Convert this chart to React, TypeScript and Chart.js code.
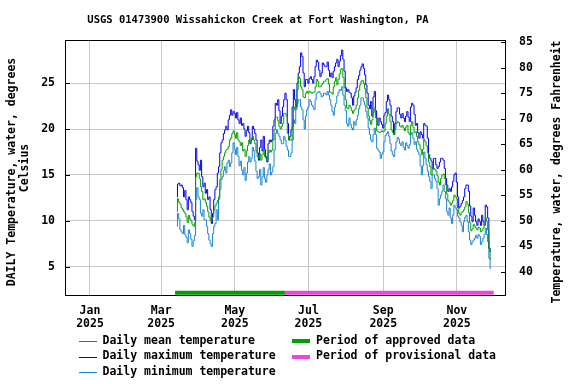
import React, { useEffect, useRef } from "react";
import { Chart, registerables } from "chart.js";

Chart.register(...registerables);

const FONT = '"DejaVu Sans Mono", "Liberation Mono", monospace';

// Day numbers counted from 2025-01-01 (= 0)
const monthStarts = [72, 90, 120, 151, 181, 212, 243, 273, 304]; // Mar 14, Apr 1, May 1 ... Nov 1

// Daily maximum temperature, deg C
const maxMar = [12.6, 14.0, 14.1, 13.8, 13.9, 13.6, 12.6, 13.3, 12.3, 11.2, 12.6, 12.3, 12.0, 11.0, 10.5, 10.1, 17.9, 16.5];
const maxApr = [16.1, 15.5, 16.6, 14.8, 13.7, 14.1, 13.0, 13.4, 12.3, 12.6, 11.2, 9.7, 10.8, 12.3, 13.4, 13.7, 15.2, 15.9, 17.4, 18.5, 18.8, 19.5, 19.9, 20.3, 19.9, 21.0, 21.5, 22.1, 21.5, 21.9];
const maxMay = [21.7, 21.2, 21.8, 21.0, 20.6, 21.2, 20.4, 20.6, 20.0, 19.2, 19.8, 20.3, 19.6, 18.4, 18.8, 20.3, 20.0, 19.5, 18.8, 17.4, 16.6, 18.0, 18.8, 17.6, 19.2, 17.8, 17.0, 16.4, 18.4, 18.8, 18.6];
const maxJun = [18.8, 20.3, 21.0, 22.8, 22.6, 23.2, 22.0, 20.6, 21.4, 22.4, 23.2, 23.9, 23.2, 20.6, 18.8, 19.2, 19.9, 22.4, 24.3, 23.2, 22.4, 25.0, 26.1, 26.8, 28.3, 27.9, 26.1, 24.6, 25.4, 25.4];
const maxJul = [25.0, 25.5, 25.7, 25.4, 25.0, 25.7, 26.8, 27.5, 27.3, 26.4, 25.7, 26.1, 27.2, 27.0, 26.8, 26.8, 27.3, 26.4, 25.7, 26.1, 25.6, 26.3, 26.8, 27.2, 27.6, 26.8, 27.4, 28.0, 28.6, 27.6, 26.3];
const maxAug = [24.5, 24.1, 24.3, 24.0, 23.9, 23.4, 22.6, 23.6, 24.0, 24.5, 25.4, 25.8, 26.4, 26.8, 27.1, 26.6, 25.9, 24.8, 23.9, 22.6, 22.2, 23.0, 21.4, 23.5, 24.1, 22.0, 21.2, 20.4, 21.2, 20.8, 20.5];
const maxSep = [20.1, 21.5, 21.8, 23.0, 23.7, 23.2, 22.6, 21.4, 20.8, 19.4, 20.6, 21.9, 22.3, 22.3, 21.6, 21.2, 21.7, 21.2, 20.8, 21.4, 21.9, 21.3, 20.8, 22.4, 22.8, 22.6, 21.6, 20.4, 20.6, 19.6];
const maxOct = [19.0, 19.7, 19.4, 19.0, 20.6, 20.4, 20.3, 19.0, 17.2, 16.8, 16.5, 15.7, 16.8, 16.8, 16.1, 15.7, 15.9, 16.4, 16.8, 16.8, 16.6, 15.7, 14.6, 13.9, 13.2, 13.5, 13.2, 13.7, 14.3, 15.0, 15.2];
const maxNov = [14.2, 12.6, 11.4, 11.6, 11.9, 12.2, 12.6, 13.5, 13.9, 13.9, 13.2, 11.6, 10.5, 9.9, 11.4, 10.6, 9.9, 9.5, 10.2, 9.9, 9.5, 10.6, 9.9, 9.5, 11.7, 11.5, 10.3, 7.0, 6.6];

// Daily mean temperature, deg C
const meanMar = [11.0, 12.4, 12.0, 11.8, 11.4, 11.2, 11.0, 10.8, 10.4, 9.8, 10.6, 10.2, 10.0, 9.6, 9.4, 9.8, 14.8, 15.2];
const meanApr = [15.2, 14.6, 13.7, 13.2, 12.3, 12.4, 12.0, 11.6, 11.0, 10.4, 10.0, 10.1, 10.4, 11.2, 11.6, 11.9, 12.2, 12.6, 14.5, 15.6, 16.6, 17.0, 17.4, 17.7, 17.8, 18.1, 18.8, 19.0, 19.5, 19.8];
const meanMay = [19.4, 19.0, 19.6, 18.8, 18.6, 18.2, 18.5, 17.6, 17.8, 17.0, 17.6, 18.2, 18.8, 18.6, 19.0, 19.2, 18.8, 18.4, 17.6, 17.0, 16.8, 17.3, 16.6, 17.2, 17.7, 17.0, 16.8, 16.6, 17.4, 17.7, 17.5];
const meanJun = [17.7, 18.8, 19.9, 21.3, 21.3, 20.9, 20.3, 20.0, 20.3, 20.6, 21.7, 21.7, 21.4, 19.5, 18.8, 18.8, 18.8, 20.3, 22.4, 22.1, 22.8, 24.3, 25.7, 25.5, 24.6, 24.3, 23.5, 23.4, 23.9, 24.1];
const meanJul = [23.9, 24.1, 24.0, 23.9, 24.0, 24.0, 24.6, 25.4, 25.2, 24.6, 24.6, 24.8, 25.0, 25.2, 25.2, 25.4, 25.5, 24.9, 24.0, 24.0, 23.8, 24.6, 25.2, 25.6, 24.8, 25.4, 26.0, 26.5, 26.6, 25.6, 24.5];
const meanAug = [23.2, 22.3, 22.2, 22.6, 22.4, 22.0, 21.7, 22.0, 22.2, 22.6, 23.4, 24.2, 24.8, 25.2, 25.3, 25.0, 24.4, 23.4, 22.3, 21.4, 20.9, 20.5, 21.0, 21.8, 22.3, 21.2, 19.8, 19.7, 19.6, 19.7, 19.8];
const meanSep = [19.7, 19.8, 20.6, 21.4, 22.2, 21.6, 20.8, 19.9, 19.6, 19.4, 20.0, 20.6, 20.8, 20.7, 20.3, 20.2, 20.4, 20.1, 19.8, 20.2, 20.4, 19.6, 19.4, 20.4, 20.8, 20.2, 19.6, 19.7, 19.2, 18.6];
const meanOct = [18.3, 17.8, 17.2, 17.8, 18.9, 18.6, 18.2, 17.4, 16.4, 15.9, 15.0, 15.6, 15.7, 15.6, 15.4, 14.9, 14.2, 13.9, 14.6, 15.0, 15.1, 14.6, 13.9, 12.9, 12.2, 12.0, 11.7, 11.9, 12.2, 12.8, 12.6];
const meanNov = [12.4, 11.4, 10.8, 10.6, 10.9, 11.0, 11.2, 11.5, 12.1, 11.8, 10.9, 9.8, 8.9, 9.1, 9.6, 9.4, 9.2, 9.0, 9.3, 9.2, 8.8, 8.9, 9.2, 9.5, 10.3, 9.9, 9.0, 7.0, 5.8];

// Daily minimum temperature, deg C
const minMar = [9.4, 10.8, 10.2, 9.0, 8.8, 8.6, 9.5, 8.5, 8.2, 7.6, 9.0, 8.6, 8.0, 7.2, 7.8, 8.4, 12.3, 13.6];
const minApr = [12.6, 12.3, 10.8, 10.5, 11.2, 10.1, 10.1, 9.4, 8.6, 7.9, 7.5, 7.2, 8.6, 9.4, 9.7, 11.2, 10.1, 12.3, 13.4, 14.5, 14.8, 15.5, 15.9, 15.2, 16.3, 16.6, 15.9, 16.3, 17.4, 18.5];
const minMay = [17.8, 17.2, 18.0, 17.0, 16.0, 16.5, 15.5, 15.0, 15.8, 14.4, 15.2, 16.4, 17.0, 16.4, 16.8, 18.0, 17.6, 16.5, 15.4, 14.6, 14.8, 15.6, 13.9, 14.8, 15.8, 14.6, 14.2, 15.0, 15.6, 16.2, 15.0];
const minJun = [15.3, 15.9, 17.7, 19.5, 19.9, 19.5, 19.2, 18.8, 18.4, 18.4, 19.2, 18.8, 18.1, 17.7, 17.0, 17.0, 17.4, 18.8, 21.0, 20.6, 22.1, 22.8, 23.2, 23.2, 22.4, 22.1, 21.0, 20.0, 21.4, 22.1];
const minJul = [22.4, 23.2, 23.0, 22.6, 22.4, 22.1, 23.2, 23.9, 24.0, 24.1, 23.9, 23.5, 23.6, 23.9, 23.9, 23.7, 24.1, 23.7, 23.2, 22.6, 21.9, 21.5, 22.4, 22.8, 23.6, 24.0, 24.3, 24.2, 24.6, 23.7, 22.6];
const minAug = [22.0, 20.6, 20.3, 21.2, 20.5, 20.1, 19.9, 20.8, 20.4, 21.0, 21.5, 22.2, 22.6, 23.4, 23.4, 23.0, 22.6, 21.9, 21.2, 20.1, 19.4, 18.8, 18.6, 19.4, 20.1, 19.4, 17.9, 17.7, 17.5, 16.8, 17.2];
const minSep = [17.5, 18.6, 19.3, 19.5, 19.7, 19.2, 18.4, 17.6, 17.2, 17.0, 17.8, 18.6, 19.1, 18.9, 18.4, 18.2, 18.6, 18.0, 17.7, 18.5, 18.2, 17.9, 18.3, 19.4, 19.6, 19.0, 18.3, 18.6, 17.8, 17.5];
const minOct = [17.2, 16.0, 15.0, 16.0, 17.5, 16.8, 16.1, 15.4, 14.8, 14.3, 13.5, 15.0, 15.0, 14.6, 14.3, 13.5, 11.7, 12.4, 12.8, 13.2, 13.9, 13.2, 12.4, 11.0, 10.6, 11.4, 10.3, 9.7, 10.6, 11.7, 11.4];
const minNov = [11.2, 10.5, 10.3, 9.9, 9.5, 8.8, 9.9, 10.4, 10.6, 9.9, 8.8, 7.9, 7.4, 7.7, 7.9, 8.1, 8.4, 8.1, 8.5, 8.3, 7.4, 7.7, 8.1, 8.5, 9.2, 8.5, 7.7, 5.9, 4.8];

const maxMonths = [maxMar, maxApr, maxMay, maxJun, maxJul, maxAug, maxSep, maxOct, maxNov];
const meanMonths = [meanMar, meanApr, meanMay, meanJun, meanJul, meanAug, meanSep, meanOct, meanNov];
const minMonths = [minMar, minApr, minMay, minJun, minJul, minAug, minSep, minOct, minNov];

// Axis ticks
const xTickDays = [0, 59, 120, 181, 243, 304];
const xTickMonths = ["Jan", "Mar", "May", "Jul", "Sep", "Nov"];
const xTickYear = "2025";
const yTicksC = [5, 10, 15, 20, 25];
const yTicksF = [40, 45, 50, 55, 60, 65, 70, 75, 80, 85];

// Approval periods (day numbers)
const approvedPeriod = [70.5, 161.5];
const provisionalPeriod = [161.5, 334.5];
const periodLevel = 2.15;

const xRange = [-20.7, 344.7];
const cRange = [1.8, 29.7];

const COLORS = {
  mean: "#00a000",
  max: "#0000ee",
  min: "#1a86d0",
  approved: "#00a000",
  provisional: "#ee44dd",
  grid: "#c8c8c8",
};

function toPoints(months: number[][]) {
  const pts: { x: number; y: number }[] = [];
  months.forEach((arr, m) => {
    arr.forEach((v, i) => pts.push({ x: monthStarts[m] + i, y: v }));
  });
  return pts;
}

const decorPlugin = {
  id: "decor",
  afterDraw(chart: any) {
    const { ctx, chartArea } = chart;
    const { left, right, top, bottom } = chartArea;
    const yC = chart.scales.y;
    const yF = chart.scales.y2;
    ctx.save();
    // frame
    ctx.strokeStyle = "#000";
    ctx.lineWidth = 1;
    ctx.strokeRect(Math.round(left) + 0.5, Math.round(top) + 0.5, Math.round(right - left) - 1, Math.round(bottom - top) - 1);
    // inward ticks
    ctx.beginPath();
    yTicksC.forEach((v) => {
      const y = Math.round(yC.getPixelForValue(v)) + 0.5;
      ctx.moveTo(left, y);
      ctx.lineTo(left + 5, y);
    });
    yTicksF.forEach((v) => {
      const y = Math.round(yF.getPixelForValue(v)) + 0.5;
      ctx.moveTo(right - 5, y);
      ctx.lineTo(right, y);
    });
    ctx.stroke();

    ctx.fillStyle = "#000";
    ctx.textBaseline = "middle";
    // title
    ctx.font = `bold 10.5px ${FONT}`;
    ctx.textAlign = "center";
    ctx.fillText("USGS 01473900 Wissahickon Creek at Fort Washington, PA", 258, 20);

    // axis titles
    ctx.font = `bold 11.5px ${FONT}`;
    const midY = (top + bottom) / 2 + 4;
    ctx.save();
    ctx.translate(12, midY);
    ctx.rotate(-Math.PI / 2);
    ctx.fillText("DAILY Temperature, water, degrees", 0, 0);
    ctx.restore();
    ctx.save();
    ctx.translate(25, midY - 4);
    ctx.rotate(-Math.PI / 2);
    ctx.fillText("Celsius", 0, 0);
    ctx.restore();
    ctx.save();
    ctx.translate(557, midY);
    ctx.rotate(-Math.PI / 2);
    ctx.fillText("Temperature, water, degrees Fahrenheit", 0, 0);
    ctx.restore();

    // legend
    ctx.textAlign = "left";
    const rows = [341, 356.5, 372];
    const lineItems = [
      { c: COLORS.mean, t: "Daily mean temperature" },
      { c: COLORS.max, t: "Daily maximum temperature" },
      { c: COLORS.min, t: "Daily minimum temperature" },
    ];
    lineItems.forEach((it, i) => {
      const y = Math.round(rows[i]) + 0.5;
      ctx.strokeStyle = it.c;
      ctx.lineWidth = 1;
      ctx.beginPath();
      ctx.moveTo(79, y);
      ctx.lineTo(97, y);
      ctx.stroke();
      ctx.fillStyle = "#000";
      ctx.fillText(it.t, 102.5, rows[i]);
    });
    const barItems = [
      { c: COLORS.approved, t: "Period of approved data" },
      { c: COLORS.provisional, t: "Period of provisional data" },
    ];
    barItems.forEach((it, i) => {
      ctx.fillStyle = it.c;
      ctx.fillRect(292, Math.round(rows[i]) - 2, 18, 4);
      ctx.fillStyle = "#000";
      ctx.fillText(it.t, 316, rows[i]);
    });
    ctx.restore();
  },
};

export default function App() {
  const canvasRef = useRef<HTMLCanvasElement | null>(null);

  useEffect(() => {
    document.body.style.margin = "0";
    const canvas = canvasRef.current;
    if (!canvas) return;
    const tickFont = { family: FONT, size: 11.5, weight: "bold" as const, lineHeight: 1.13 };
    const lineDs = (label: string, months: number[][], color: string) => ({
      label,
      data: toPoints(months),
      borderColor: color,
      backgroundColor: color,
      borderWidth: 1,
      pointRadius: 0,
      stepped: "middle" as const,
      fill: false,
      yAxisID: "y",
    });
    const barDs = (label: string, period: number[], color: string) => ({
      label,
      data: [
        { x: period[0], y: periodLevel },
        { x: period[1], y: periodLevel },
      ],
      borderColor: color,
      backgroundColor: color,
      borderWidth: 4,
      borderCapStyle: "butt" as const,
      pointRadius: 0,
      fill: false,
      yAxisID: "y",
    });
    const chart = new Chart(canvas, {
      type: "line",
      data: {
        datasets: [
          lineDs("Daily mean temperature", meanMonths, COLORS.mean),
          lineDs("Daily maximum temperature", maxMonths, COLORS.max),
          lineDs("Daily minimum temperature", minMonths, COLORS.min),
          barDs("Period of approved data", approvedPeriod, COLORS.approved),
          barDs("Period of provisional data", provisionalPeriod, COLORS.provisional),
        ] as any,
      },
      options: {
        responsive: false,
        animation: false,
        events: [],
        layout: { padding: { top: 40, left: 0, right: 0, bottom: 0 } },
        plugins: {
          legend: { display: false },
          title: { display: false },
          tooltip: { enabled: false },
        },
        scales: {
          x: {
            type: "linear",
            position: "bottom",
            min: xRange[0],
            max: xRange[1],
            afterBuildTicks: (axis: any) => {
              axis.ticks = xTickDays.map((v) => ({ value: v }));
            },
            afterFit: (axis: any) => {
              axis.height = 88;
            },
            ticks: {
              autoSkip: false,
              maxRotation: 0,
              minRotation: 0,
              padding: 9,
              color: "#000",
              font: tickFont,
              callback: (_v: any, i: number) => [xTickMonths[i], xTickYear],
            },
            grid: { color: COLORS.grid, drawTicks: false, lineWidth: 1 },
            border: { display: false },
          },
          y: {
            type: "linear",
            position: "left",
            min: cRange[0],
            max: cRange[1],
            afterBuildTicks: (axis: any) => {
              axis.ticks = yTicksC.map((v) => ({ value: v }));
            },
            afterFit: (axis: any) => {
              axis.width = 65;
            },
            ticks: {
              padding: 10,
              color: "#000",
              font: tickFont,
              callback: (v: any) => String(v),
            },
            grid: { color: COLORS.grid, drawTicks: false, lineWidth: 1 },
            border: { display: false },
          },
          y2: {
            type: "linear",
            position: "right",
            min: cRange[0] * 1.8 + 32,
            max: cRange[1] * 1.8 + 32,
            afterBuildTicks: (axis: any) => {
              axis.ticks = yTicksF.map((v) => ({ value: v }));
            },
            afterFit: (axis: any) => {
              axis.width = 70;
            },
            ticks: {
              padding: 13,
              color: "#000",
              font: tickFont,
              callback: (v: any) => String(v),
            },
            grid: { display: false, drawTicks: false },
            border: { display: false },
          },
        },
      } as any,
      plugins: [decorPlugin],
    });
    return () => chart.destroy();
  }, []);

  return (
    <div style={{ width: 576, height: 384, background: "#fff" }}>
      <canvas ref={canvasRef} width={576} height={384} style={{ display: "block" }} />
    </div>
  );
}
